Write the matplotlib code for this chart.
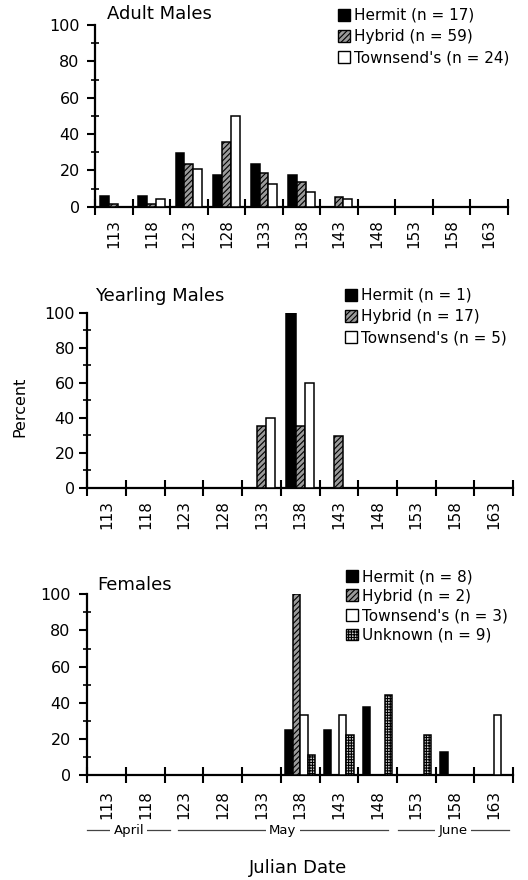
import matplotlib
matplotlib.use("Agg")
import matplotlib.pyplot as plt
import matplotlib.transforms as mtrans
import numpy as np
from matplotlib.patches import Patch

plt.rcParams['font.family'] = ['DejaVu Sans']
plt.rcParams['hatch.linewidth'] = 0.8

# ---- data ----
bin_starts = [113, 118, 123, 128, 133, 138, 143, 148, 153, 158, 163]
bin_labels = ["113", "118", "123", "128", "133", "138", "143", "148", "153", "158", "163"]

# Adult males (percent)
am_hermit = [5.9, 5.9, 29.4, 17.6, 23.5, 17.6, 0, 0, 0, 0, 0]
am_hybrid = [1.7, 1.7, 23.7, 35.6, 18.6, 13.6, 5.1, 0, 0, 0, 0]
am_towns = [0, 4.2, 20.8, 50.0, 12.5, 8.3, 4.2, 0, 0, 0, 0]

# Yearling males
ym_hermit = [0, 0, 0, 0, 0, 100, 0, 0, 0, 0, 0]
ym_hybrid = [0, 0, 0, 0, 35.3, 35.3, 29.4, 0, 0, 0, 0]
ym_towns = [0, 0, 0, 0, 40, 60, 0, 0, 0, 0, 0]

# Females
f_hermit = [0, 0, 0, 0, 0, 25, 25, 37.5, 0, 12.5, 0]
f_hybrid = [0, 0, 0, 0, 0, 100, 0, 0, 0, 0, 0]
f_towns = [0, 0, 0, 0, 0, 33.3, 33.3, 0, 0, 0, 33.3]
f_unknown = [0, 0, 0, 0, 0, 11.1, 22.2, 44.4, 22.2, 0, 0]

panel_titles = ["Adult Males", "Yearling Males", "Females"]
am_labels = ["Hermit (n = 17)", "Hybrid (n = 59)", "Townsend's (n = 24)"]
ym_labels = ["Hermit (n = 1)", "Hybrid (n = 17)", "Townsend's (n = 5)"]
f_labels = ["Hermit (n = 8)", "Hybrid (n = 2)", "Townsend's (n = 3)", "Unknown (n = 9)"]

months = ["April", "May", "June"]
month_start = [113, 124.7, 153.1]
month_end = [123.7, 151.8, 167.5]

# ---- styles ----
styles = [
    dict(facecolor="black", edgecolor="black", hatch=None),
    dict(facecolor="#9a9a9a", edgecolor="black", hatch="//////"),
    dict(facecolor="white", edgecolor="black", hatch=None),
    dict(facecolor="#d0d0d0", edgecolor="black", hatch="++++++"),
]

W, H = 528, 880
fig = plt.figure(figsize=(W / 100, H / 100), dpi=100)


def px_axes(left, right, bottom, top):
    return fig.add_axes([left / W, 1 - bottom / H, (right - left) / W, (bottom - top) / H])


BIN = 5.0


def draw_panel(ax, series, labels, ypad, xpad, title, title_xy, leg_xy, legspacing):
    n = len(series)
    frac = 0.71 if n == 3 else 0.77
    bw = BIN * frac / n
    x0 = np.array(bin_starts, dtype=float) + (BIN - BIN * frac) / 2
    handles = []
    for k, vals in enumerate(series):
        st = styles[k]
        ax.bar(x0 + k * bw, vals, width=bw, align="edge",
               facecolor=st["facecolor"], edgecolor=st["edgecolor"],
               hatch=st["hatch"], linewidth=1.1, zorder=3)
        handles.append(Patch(facecolor=st["facecolor"], edgecolor=st["edgecolor"],
                             hatch=st["hatch"], linewidth=1.0, label=labels[k]))
    ax.set_xlim(bin_starts[0], bin_starts[-1] + BIN)
    ax.set_ylim(0, 100)
    for s in ["top", "right"]:
        ax.spines[s].set_visible(False)
    for s in ["left", "bottom"]:
        ax.spines[s].set_linewidth(1.6)
    ax.set_yticks([0, 20, 40, 60, 80, 100])
    ax.set_yticks([10, 30, 50, 70, 90], minor=True)
    ax.tick_params(axis="y", which="major", direction="out", length=6, width=1.5,
                   labelsize=11.5, pad=ypad)
    ax.tick_params(axis="y", which="minor", direction="inout", length=6, width=1.2)
    bounds = list(bin_starts) + [bin_starts[-1] + BIN]
    ax.set_xticks(bounds)
    ax.set_xticklabels([])
    ax.tick_params(axis="x", which="major", direction="inout", length=11, width=1.5)
    centers = [b + BIN / 2 for b in bin_starts]
    ax.set_xticks(centers, minor=True)
    ax.set_xticklabels(bin_labels, minor=True, rotation=90, fontsize=11)
    ax.tick_params(axis="x", which="minor", length=0, pad=xpad)
    for lab in ax.get_xticklabels(minor=True):
        lab.set_verticalalignment("top")
    fig.text(title_xy[0] / W, 1 - title_xy[1] / H, title, fontsize=13,
             ha="left", va="baseline")
    fig.legend(handles=handles, loc="upper left",
               bbox_to_anchor=(leg_xy[0] / W, 1 - leg_xy[1] / H),
               frameon=False, fontsize=11, handlelength=0.8, handleheight=0.8,
               handletextpad=0.25, labelspacing=legspacing, borderpad=0,
               borderaxespad=0)


ax1 = px_axes(95, 508, 206.7, 25)
draw_panel(ax1, [am_hermit, am_hybrid, am_towns], am_labels, 5, 9,
           panel_titles[0], (107, 19), (338, 8), 0.4)

ax2 = px_axes(87.3, 513, 487.7, 312.7)
draw_panel(ax2, [ym_hermit, ym_hybrid, ym_towns], ym_labels, 3, 9,
           panel_titles[1], (95, 301), (345, 288), 0.4)

ax3 = px_axes(87.3, 513, 775, 594.3)
draw_panel(ax3, [f_hermit, f_hybrid, f_towns, f_unknown], f_labels, 6, 11,
           panel_titles[2], (97, 590), (346, 569), 0.3)

# month band under panel 3
ymon = 1 - 830 / H
tr = mtrans.blended_transform_factory(ax3.transData, fig.transFigure)
for name, a, b in zip(months, month_start, month_end):
    ax3.plot([a, b], [ymon, ymon], transform=tr, color="#444444", lw=0.9, clip_on=False)
    ax3.text((a + b) / 2, ymon, name, fontsize=9.5, transform=tr,
             ha="center", va="center",
             bbox=dict(facecolor="white", edgecolor="none", pad=2.5), clip_on=False)

fig.text(298 / W, 1 - 868 / H, "Julian Date", fontsize=13, ha="center", va="center")
fig.text(20 / W, 1 - 407 / H, "Percent", fontsize=11.5, ha="center", va="center",
         rotation=90)

fig.savefig("out.png", dpi=100)
